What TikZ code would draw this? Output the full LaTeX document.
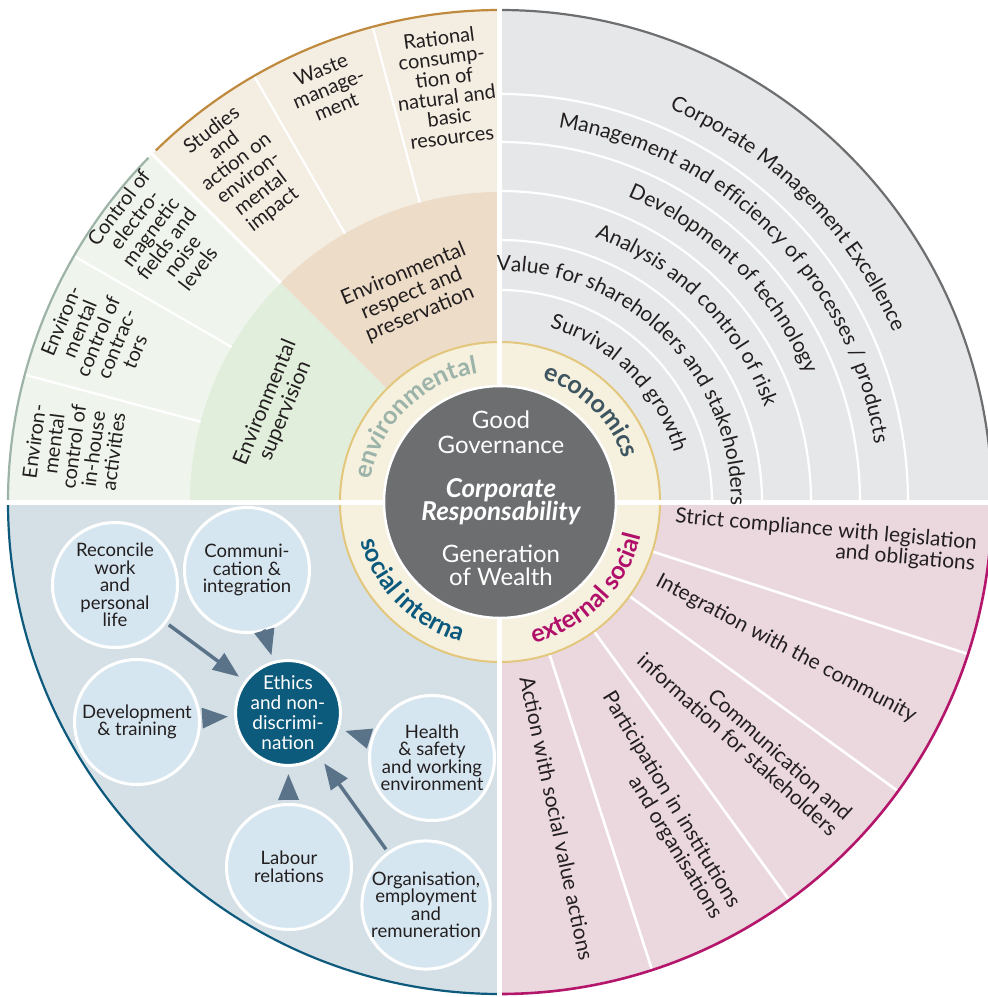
\documentclass[tikz,border=0pt]{standalone}
\usepackage{fontspec}
\setmainfont{Lato}
\usetikzlibrary{decorations.text,arrows.meta}

\definecolor{inktext}{HTML}{231F20}
\definecolor{ecogray}{HTML}{E6E7E8}
\definecolor{ecostroke}{HTML}{6D6E70}
\definecolor{extpink}{HTML}{EBD8DF}
\definecolor{extstroke}{HTML}{B3166A}
\definecolor{intblue}{HTML}{D5E0E6}
\definecolor{intstroke}{HTML}{0E5A7D}
\definecolor{bubblefill}{HTML}{D6E6F0}
\definecolor{ethicsfill}{HTML}{0C5A7C}
\definecolor{arrowc}{HTML}{5B7389}
\definecolor{ringfill}{HTML}{F6F0DE}
\definecolor{ringgold}{HTML}{E2C77C}
\definecolor{coregray}{HTML}{6D6E70}
\definecolor{brownout}{HTML}{F3EDE2}
\definecolor{brownin}{HTML}{EDDCC7}
\definecolor{greenout}{HTML}{EFF5EC}
\definecolor{greenin}{HTML}{E2EEDC}
\definecolor{brownstroke}{HTML}{C08A3E}
\definecolor{greenstroke}{HTML}{9DB3A7}
\definecolor{envlabel}{HTML}{9BB3A9}
\definecolor{ecolabel}{HTML}{3D5560}
\definecolor{intlabel}{HTML}{0B5A7E}
\definecolor{extlabel}{HTML}{B0106A}

\begin{document}
\begin{tikzpicture}[x=1pt,y=1pt,
  sep/.style={white, line width=2.2pt},
  rim/.style={line width=2.2pt},
  envtxt/.style={text=inktext, align=center, inner sep=0pt, font=\fontsize{20}{20}\selectfont},
  envinner/.style={text=inktext, align=center, inner sep=0pt, font=\fontsize{21}{21.5}\selectfont},
  soctxt/.style={text=inktext, align=right, inner sep=0pt, anchor=east, font=\fontsize{21}{21}\selectfont},
  coretxt/.style={text=white, anchor=base, inner sep=0pt, font=\fontsize{24}{24}\selectfont},
  corebold/.style={coretxt, font=\fontsize{26}{26}\selectfont\bfseries\itshape},
  bubble/.style={circle, fill=bubblefill, draw=white, line width=3pt, minimum size=125pt, inner sep=0pt, align=center, text=inktext, font=\fontsize{18.5}{17.5}\selectfont},
  hub/.style={bubble, fill=ethicsfill, text=white, minimum size=97pt, font=\fontsize{19}{20}\selectfont},
  flow/.style={draw=arrowc, line width=3.5pt, -{Triangle[length=26pt,width=20pt]}, shorten >=7pt, shorten <=3pt},
]
\useasboundingbox (-500,-495) rectangle (488,502);

% ---------- quadrant backgrounds ----------
% economics (top right)
\fill[ecogray] (0,0) -- (0:492) arc[start angle=0, end angle=90, radius=492] -- cycle;
% environmental (top left)
\fill[brownout] (0,0) -- (90:492) arc[start angle=90, end angle=135, radius=492] -- cycle;
\fill[greenout] (0,0) -- (135:492) arc[start angle=135, end angle=180, radius=492] -- cycle;
\fill[brownin] (0,0) -- (90:310) arc[start angle=90, end angle=135, radius=310] -- cycle;
\fill[greenin] (0,0) -- (135:310) arc[start angle=135, end angle=180, radius=310] -- cycle;
% internal social (bottom left)
\fill[intblue] (0,0) -- (180:492) arc[start angle=180, end angle=270, radius=492] -- cycle;
% external social (bottom right)
\fill[extpink] (0,0) -- (270:492) arc[start angle=270, end angle=360, radius=492] -- cycle;

% ---------- dividing lines inside the quadrants ----------
\foreach \r in {212,262,311,360,408}
  \draw[sep] (90:\r) arc[start angle=90, end angle=0, radius=\r];
\foreach \a in {105,120,150,165}
  \draw[sep] (\a:310) -- (\a:492);
\draw[white, line width=3pt] (135:310) -- (135:492);
\foreach \a in {-18,-36,-54,-72}
  \draw[white, line width=2.6pt] (\a:160) -- (\a:492);

% ---------- outer rims ----------
\draw[rim, ecostroke] (90:492) arc[start angle=90, end angle=0, radius=492];
\draw[rim, brownstroke] (90:492) arc[start angle=90, end angle=134.4, radius=492];
\draw[rim, greenstroke] (135.6:492) arc[start angle=135.6, end angle=180, radius=492];
\draw[rim, intstroke] (180:492) arc[start angle=180, end angle=270, radius=492];
\draw[rim, extstroke, line width=2.6pt] (270:492) arc[start angle=270, end angle=360, radius=492];

% ---------- ring and cross ----------
\fill[ringfill, draw=ringgold, line width=2pt] (0,0) circle[radius=160];
\draw[white, line width=5pt] (-494,0) -- (494,0);
\draw[white, line width=5pt] (0,-494) -- (0,494);
\fill[coregray, draw=white, line width=2.5pt] (0,0) circle[radius=116];

% ---------- ring labels ----------
\path[decorate, decoration={text along path, text color=envlabel, text align=center,
  text={|\fontsize{25}{25}\selectfont\bfseries|environmental}}]
  (180:131) arc[start angle=180, end angle=90, radius=131];
\path[decorate, decoration={text along path, text color=ecolabel, text align=center,
  text={|\fontsize{25}{25}\selectfont\bfseries|economics}}]
  (90:131) arc[start angle=90, end angle=0, radius=131];
\path[decorate, decoration={text along path, text color=intlabel, text align=center,
  text={|\fontsize{25}{25}\selectfont\bfseries|social interna}}]
  (180:145) arc[start angle=180, end angle=270, radius=145];
\path[decorate, decoration={text along path, text color=extlabel, text align=center,
  text={|\fontsize{25}{25}\selectfont\bfseries|external social}}]
  (270:145) arc[start angle=270, end angle=360, radius=145];

% ---------- centre ----------
\node[coretxt] (good) at (1,74) {Good};
\node[coretxt] (governance) at (1,49) {Governance};
\node[corebold] (corporate) at (1,5) {Corporate};
\node[corebold] (responsability) at (1,-18) {Responsability};
\node[coretxt] (generation) at (1,-60) {Generation};
\node[coretxt] (wealth) at (1,-83) {of Wealth};

% ---------- environmental ----------
\node[envinner, rotate=22.5] (respect) at (113:226) {Environmental\\respect and\\preservation};
\node[envinner, rotate=67.5] (supervision) at (157:244) {Environmental\\supervision};
\node[envtxt, rotate=7.5] (rational) at (97.5:418) {Rational\\consump-\\tion of\\natural and\\basic\\resources};
\node[envtxt, rotate=22.5] (waste) at (112.5:448) {Waste\\manage-\\ment};
\node[envtxt, rotate=37.5] (studies) at (127.8:420) {Studies\\and\\action on\\environ-\\mental\\impact};
\node[envtxt, rotate=52.5] (fields) at (142.3:432) {Control of\\electro-\\magnetic\\fields and\\noise\\levels};
\node[envtxt, rotate=67.5] (contractors) at (157.6:435) {Environ-\\mental\\control of\\contrac-\\tors};
\node[envtxt, rotate=82.5] (inhouse) at (172.6:430) {Environ-\\mental\\control of\\in-house\\activities};

% ---------- economics ----------
\path[decorate, decoration={text along path, text color=inktext, text align=center,
  text={|\fontsize{21}{21}\selectfont|Survival and growth}}]
  (90:181) arc[start angle=90, end angle=0, radius=181];
\path[decorate, decoration={text along path, text color=inktext, text align=center,
  text={|\fontsize{21}{21}\selectfont|Value for shareholders and stakeholders}}]
  (90:231) arc[start angle=90, end angle=0, radius=231];
\path[decorate, decoration={text along path, text color=inktext, text align=center,
  text={|\fontsize{21}{21}\selectfont|Analysis and control of risk}}]
  (90:281) arc[start angle=90, end angle=0, radius=281];
\path[decorate, decoration={text along path, text color=inktext, text align=center,
  text={|\fontsize{21}{21}\selectfont|Development of technology}}]
  (90:331) arc[start angle=90, end angle=0, radius=331];
\path[decorate, decoration={text along path, text color=inktext, text align=center,
  text={|\fontsize{21}{21}\selectfont|Management and efficiency of processes / products}}]
  (90:379) arc[start angle=90, end angle=0, radius=379];
\path[decorate, decoration={text along path, text color=inktext, text align=center,
  text={|\fontsize{21}{21}\selectfont|Corporate Management Excellence}}]
  (90:428) arc[start angle=90, end angle=0, radius=428];

% ---------- external social ----------
\node[soctxt, rotate=-5] (strict) at (476,-52) {Strict compliance with legislation\\and obligations};
\node[soctxt, rotate=-28] (community) at (415,-215) {Integration with the community};
\node[soctxt, rotate=-42] (stakeholders) at (342,-322) {Communication and\\information for stakeholders};
\node[soctxt, rotate=-59] (institutions) at (226,-410) {Participation in institutions\\and organisations};
\node[soctxt, rotate=-78] (valueact) at (87,-458) {Action with social value actions};

% ---------- internal social ----------
\node[hub] (ethics) at (-212,-211) {Ethics\\and non-\\discrimi-\\nation};
\node[bubble] (reconcile) at (-385,-83) {Reconcile\\work\\and\\personal\\life};
\node[bubble] (commint) at (-253,-68) {Communi-\\cation \&\\integration};
\node[bubble] (training) at (-363,-220) {Development\\\& training};
\node[bubble] (health) at (-68,-256) {Health\\\& safety\\and working\\environment};
\node[bubble] (labour) at (-211,-365) {Labour\\relations};
\node[bubble] (organisation) at (-74,-403) {Organisation,\\employment\\and\\remuneration};

\draw[flow] (reconcile) -- (ethics);
\draw[flow, shorten <=2pt, shorten >=6pt] (commint) -- (ethics);
\draw[flow, shorten <=2pt, shorten >=6pt] (training) -- (ethics);
\draw[flow, shorten <=2pt, shorten >=6pt] (health) -- (ethics);
\draw[flow, shorten <=4pt, shorten >=7pt] (labour) -- (ethics);
\draw[flow, shorten >=8pt] (organisation) -- (ethics);
\end{tikzpicture}
\end{document}
